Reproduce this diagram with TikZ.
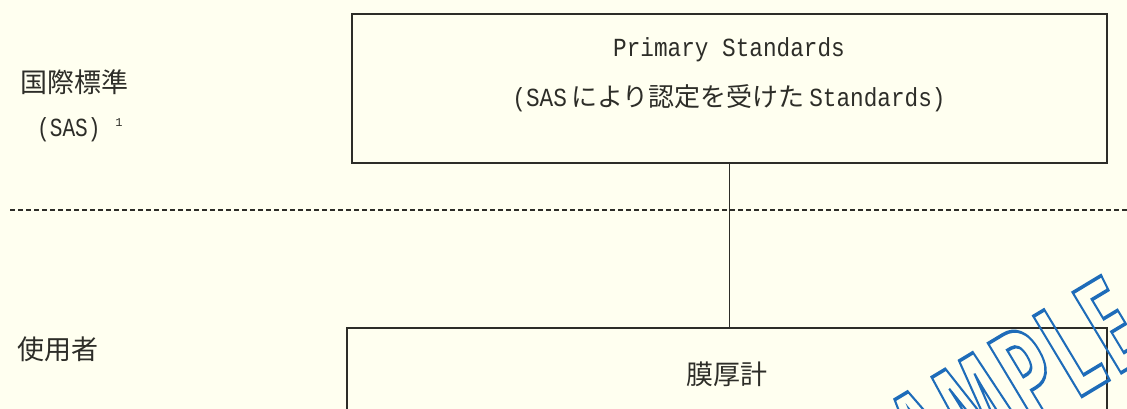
\documentclass[tikz,border=0pt]{standalone}
\usepackage{fontspec}
\setmainfont{Liberation Mono}
\newfontfamily\cjk{Noto Sans CJK JP}
\newfontfamily\wmfont{Fira Sans}[UprightFont=* Bold]
\definecolor{bgc}{RGB}{255,255,240}
\definecolor{ink}{RGB}{45,45,40}
\definecolor{wmblue}{RGB}{30,108,185}
\newcommand{\lat}[1]{\scalebox{1}[1.15]{#1}}
\newcommand{\wml}[1]{#1\kern10pt}
\tikzset{
  box/.style={draw=ink, line width=1.4pt, minimum width=#1, inner sep=0pt},
  latin/.style={text=ink, font=\fontsize{22.7}{26}\selectfont, inner sep=0pt},
  jp/.style={text=ink, font=\cjk\fontsize{27}{30}\selectfont, inner sep=0pt},
  link/.style={draw=ink, line width=1.3pt},
  sep/.style={draw=ink, line width=1.5pt, dash pattern=on 5pt off 3pt}
}
\begin{document}
\begin{tikzpicture}[x=1pt,y=-1pt]
\useasboundingbox (0,0) rectangle (1127,409);
\fill[bgc] (0,0) rectangle (1127,409);
\begin{scope}
\clip (0,0) rectangle (1127,409);
% separator
\coordinate (dl) at (10,210);
\coordinate (dr) at (1127,210);
\draw[sep] (dl) -- (dr);
% boxes
\node[box=755pt, minimum height=149pt] (top) at (729.5,88.5) {};
\node[box=760pt, minimum height=160pt] (bot) at (727,408) {};
\draw[link] (top.south) -- (top.south |- bot.north);
% texts in top box
\node[latin] (t1) at (729,50) {\lat{Primary Standards}};
\node[latin] (t2) at (729,98) {\lat{(SAS}\kern4.5pt{\cjk\fontsize{26}{30}\selectfont により認定を受けた}\kern4.5pt\lat{Standards)}};
% bottom box text
\node[jp] (t3) at (727,374) {膜厚計};
% left labels
\node[jp, anchor=west] (l1) at (20,82) {国際標準};
\node[latin, anchor=west] (l2) at (37,130) {\scalebox{0.93}[1.15]{(SAS)}};
\node[text=ink, inner sep=0pt, font=\fontsize{12}{14}\selectfont] (l2s) at (119,123) {1};
\node[jp, anchor=west] (l3) at (17,349) {使用者};
% watermark (outlined text)
\node[rotate=31, inner sep=0pt, text=wmblue] (wm) at (995,394) {\scalebox{0.58}[1]{\wmfont\fontsize{135}{150}\selectfont\special{pdf:literal direct 1 Tr 3.5 w}\wml{S}\wml{A}\wml{M}\wml{P}\wml{L}E\special{pdf:literal direct 0 Tr}}};
\end{scope}
\end{tikzpicture}
\end{document}
